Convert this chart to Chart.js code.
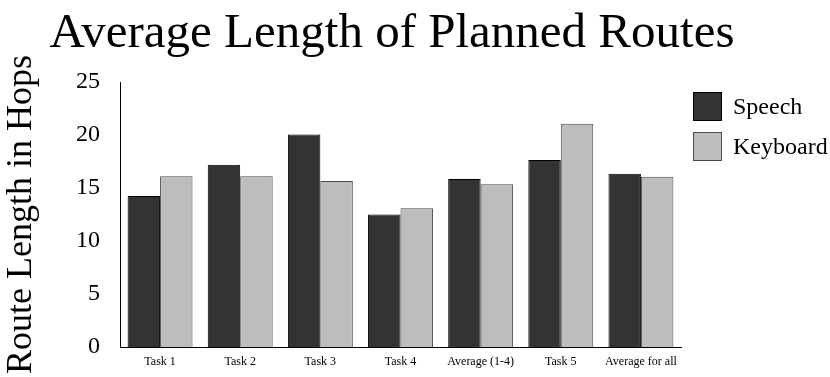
<!DOCTYPE html>
<html>
<head>
<meta charset="utf-8">
<script src="https://cdn.jsdelivr.net/npm/chart.js@4/dist/chart.umd.min.js"></script>
<style>
  html, body { margin: 0; padding: 0; background: #ffffff; overflow: hidden; }
  canvas { display: block; }
</style>
</head>
<body>
<canvas id="chart" width="830" height="377"></canvas>
<script>
// Route lengths (hops) per task, by input mode
const categories = ['Task 1', 'Task 2', 'Task 3', 'Task 4', 'Average (1-4)', 'Task 5', 'Average for all'];
const speech   = [14.25, 17.2, 20.05, 12.5, 15.85, 17.65, 16.35];
const keyboard = [16.1, 16.1, 15.65, 13.1, 15.35, 21.05, 16.05];
const seriesNames = ['Speech', 'Keyboard'];
const yTicks = [0, 5, 10, 15, 20, 25];

const SERIF = '"Liberation Serif", "Times New Roman", serif';

// Heading text drawn above the plot
const headingPlugin = {
  id: 'heading',
  afterDraw(chart) {
    const ctx = chart.ctx;
    ctx.save();
    ctx.fillStyle = '#000';
    ctx.font = '49px ' + SERIF;
    ctx.textAlign = 'center';
    ctx.textBaseline = 'alphabetic';
    ctx.fillText('Average Length of Planned Routes', 392, 47);
    ctx.restore();
  }
};

// Legend with square swatches to the right of the plot
const sideLegendPlugin = {
  id: 'sideLegend',
  afterDraw(chart) {
    const ctx = chart.ctx;
    const x0 = chart.chartArea.right + 12;
    const top = 92, box = 29, step = 40;
    ctx.save();
    chart.data.datasets.forEach((ds, i) => {
      const y = top + i * step;
      ctx.fillStyle = ds.backgroundColor;
      ctx.fillRect(x0, y, box, box);
      ctx.strokeStyle = ds.borderColor;
      ctx.lineWidth = 1;
      ctx.strokeRect(x0 + 0.5, y + 0.5, box - 1, box - 1);
      ctx.fillStyle = '#000';
      ctx.font = '24px ' + SERIF;
      ctx.textAlign = 'left';
      ctx.textBaseline = 'middle';
      ctx.fillText(ds.label, x0 + box + 11, y + box / 2 + 1);
    });
    ctx.restore();
  }
};

new Chart(document.getElementById('chart'), {
  type: 'bar',
  data: {
    labels: categories,
    datasets: [
      {
        label: seriesNames[0],
        data: speech,
        backgroundColor: '#333333',
        borderColor: '#000000',
        borderWidth: 1
      },
      {
        label: seriesNames[1],
        data: keyboard,
        backgroundColor: '#bdbdbd',
        borderColor: '#4a4a4a',
        borderWidth: 1
      }
    ]
  },
  options: {
    responsive: false,
    animation: false,
    layout: { padding: { top: 82, right: 149, bottom: 0, left: 0 } },
    datasets: {
      bar: { categoryPercentage: 0.81, barPercentage: 1.0 }
    },
    plugins: {
      legend: { display: false },
      title: { display: false },
      tooltip: { enabled: false }
    },
    scales: {
      x: {
        grid: { display: false, drawTicks: false },
        border: { display: true, color: '#000', width: 1 },
        ticks: {
          color: '#000',
          font: { family: SERIF, size: 12 },
          padding: 8,
          maxRotation: 0,
          autoSkip: false
        },
        afterFit(scale) { scale.height = 30; }
      },
      y: {
        min: 0,
        max: 25,
        afterBuildTicks(scale) { scale.ticks = yTicks.map(v => ({ value: v })); },
        grid: { display: false, drawTicks: false },
        border: { display: true, color: '#000', width: 1 },
        ticks: {
          color: '#000',
          font: { family: SERIF, size: 24 },
          padding: 20
        },
        title: {
          display: true,
          text: 'Route Length in Hops',
          color: '#000',
          font: { family: SERIF, size: 36 },
          padding: 0
        },
        afterFit(scale) {
          scale.width = 120;
          // let the tick labels overhang the plot edges
          scale.paddingTop = 0;
          scale.paddingBottom = 0;
        }
      }
    }
  },
  plugins: [headingPlugin, sideLegendPlugin]
});
</script>
</body>
</html>
